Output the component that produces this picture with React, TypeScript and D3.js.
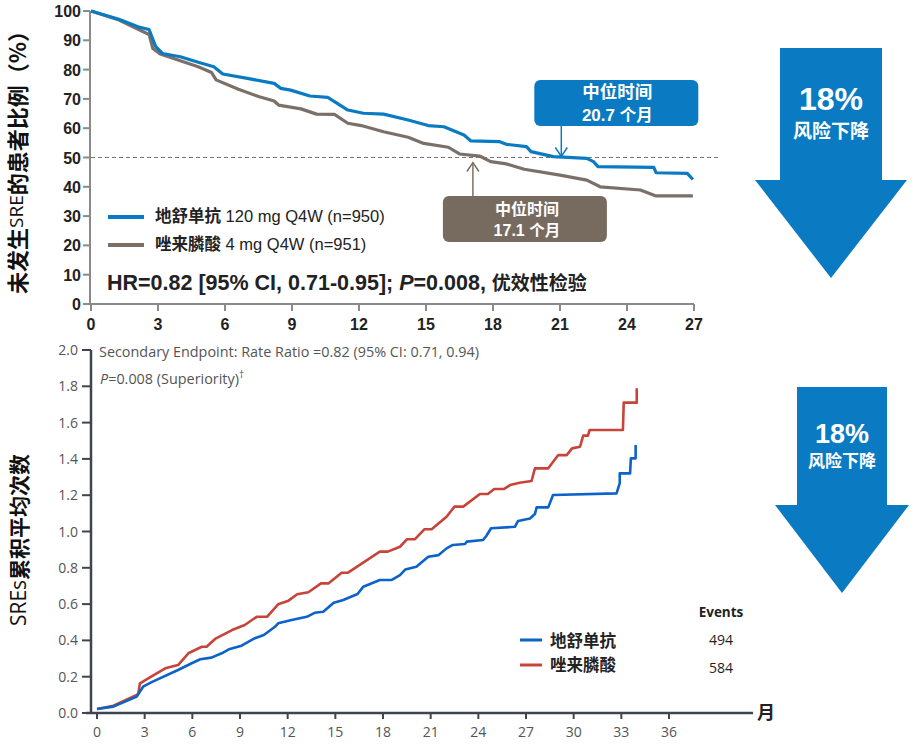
import React from "react";
import * as d3 from "d3";

// ---------- DATA ----------
const kmTicksX = [0, 3, 6, 9, 12, 15, 18, 21, 24, 27];
const kmTicksY = [0, 10, 20, 30, 40, 50, 60, 70, 80, 90, 100];
const denoKM: [number, number][] = [[0,100],[1.25,97.2],[2.1,94.6],[2.6,93.7],[2.9,87.8],[3.2,85.5],[4.0,84.4],[4.8,82.5],[5.5,81],[5.9,78.5],[7.0,77],[8.2,75.3],[8.5,73.6],[8.94,73.0],[9.8,71.0],[10.6,70.5],[11.5,66.2],[12.2,65.1],[13.1,64.8],[14.2,62.8],[15.1,60.9],[15.8,60.5],[16.7,57.7],[17.0,55.7],[18.3,55.4],[18.6,54.5],[19.5,53.7],[19.7,52.0],[20.7,50.3],[22.2,49.7],[22.5,48.6],[22.7,46.9],[25.2,46.6],[25.3,44.8],[26.7,44.6],[26.95,42.5]];
const zolKM: [number, number][] = [[0,100],[1.25,96.9],[2.6,92],[2.77,87.2],[3.1,85.3],[4.8,81],[5.4,79.0],[5.6,76.5],[6.6,73.3],[7.5,70.8],[8.2,69.3],[8.4,67.9],[9.4,66.6],[10.1,64.8],[10.9,64.7],[11.5,61.7],[12.1,60.9],[13.1,58.8],[14.2,56.9],[14.9,54.8],[16.0,53.5],[16.5,51.2],[17.4,50.5],[17.9,48.6],[18.6,47.8],[19.4,46],[21.0,44.0],[22.2,42.3],[22.8,40.0],[24.6,38.9],[25.3,36.9],[26.95,36.9]];

const mcfTicksX = [0, 3, 6, 9, 12, 15, 18, 21, 24, 27, 30, 33, 36];
const mcfTicksY = [0, 0.2, 0.4, 0.6, 0.8, 1.0, 1.2, 1.4, 1.6, 1.8, 2.0];
const denoMCF: [number, number][] = [[0,0.022],[1.03,0.035],[2.5,0.09],[2.9,0.145],[3.44,0.17],[5.1,0.237],[5.96,0.274],[6.5,0.296],[7.2,0.305],[7.85,0.329],[8.3,0.351],[9.1,0.371],[9.94,0.412],[10.5,0.43],[11.2,0.475],[11.4,0.494],[12.25,0.512],[13.2,0.53],[13.7,0.552],[14.24,0.558],[14.9,0.608],[15.5,0.623],[16.4,0.656],[16.76,0.696],[17.8,0.733],[18.55,0.733],[19.07,0.76],[19.4,0.79],[20.1,0.806],[20.85,0.861],[21.5,0.87],[22.0,0.907],[22.4,0.926],[23.16,0.931],[23.27,0.944],[24.3,0.953],[24.5,0.975],[24.8,1.018],[26.3,1.026],[26.5,1.058],[27.25,1.072],[27.56,1.096],[27.67,1.133],[28.4,1.133],[28.7,1.201],[32.7,1.21],[32.9,1.266],[32.9,1.32],[33.55,1.32],[33.6,1.403],[33.9,1.403],[33.9,1.477]];
const zolMCF: [number, number][] = [[0,0.022],[1.03,0.04],[2.5,0.099],[2.6,0.108],[2.7,0.163],[3.65,0.213],[4.3,0.246],[5.1,0.264],[5.75,0.329],[6.6,0.365],[6.9,0.365],[7.43,0.408],[8.5,0.457],[9.3,0.485],[10.05,0.53],[10.7,0.53],[11.4,0.599],[12.05,0.619],[12.6,0.654],[13.3,0.665],[14.1,0.714],[14.56,0.714],[15.4,0.773],[15.8,0.773],[17.8,0.889],[18.3,0.889],[19.07,0.916],[19.5,0.957],[20.0,0.957],[20.6,1.012],[21.06,1.012],[22.0,1.081],[22.5,1.137],[23.05,1.137],[24.1,1.207],[24.6,1.207],[25.0,1.234],[25.6,1.234],[26.0,1.256],[26.6,1.269],[27.35,1.278],[27.56,1.348],[28.4,1.348],[29.03,1.421],[29.56,1.421],[29.9,1.458],[30.4,1.467],[30.6,1.528],[30.9,1.528],[31.0,1.559],[33.1,1.559],[33.15,1.71],[33.97,1.71],[33.97,1.789]];

const medianDeno = 20.7;
const medianZol = 17.1;
const eventsDeno = 494;
const eventsZol = 584;

// ---------- STYLE ----------
const BLUE = "#0a7bc2";
const GREY = "#7a7068";
const BOXGREY = "#776b60";
const MBLUE = "#0b63c9";
const MRED = "#c6443a";
const LAT = "'Liberation Sans', Arial, 'Noto Sans CJK SC', sans-serif";
const CJK = "'Noto Sans CJK SC', 'Liberation Sans', sans-serif";
const OS = "'Open Sans', 'Noto Sans CJK SC', sans-serif";

export default function App() {
  // top KM chart
  const x1 = d3.scaleLinear().domain([0, 27]).range([91, 694]);
  const y1 = d3.scaleLinear().domain([0, 100]).range([304, 11]);
  const line1 = d3.line<[number, number]>().x(d => x1(d[0])).y(d => y1(d[1]));

  // bottom MCF chart
  const x2 = d3.scaleLinear().domain([0, 36]).range([97, 669]);
  const y2 = d3.scaleLinear().domain([0, 2]).range([713, 350]);
  const line2 = d3.line<[number, number]>().x(d => x2(d[0])).y(d => y2(d[1]));

  const bigArrow = (cx: number, top: number, shaftHalf: number, headY: number, headHalf: number, tipY: number) =>
    `M${cx - shaftHalf},${top}L${cx + shaftHalf},${top}L${cx + shaftHalf},${headY}L${cx + headHalf},${headY}L${cx},${tipY}L${cx - headHalf},${headY}L${cx - shaftHalf},${headY}Z`;

  const dArrowX = x1(medianDeno) + 8;
  const mBoxX = dArrowX - 27;
  const zArrowX = x1(medianZol);
  const zBoxCx = zArrowX + 54;

  return (
    <svg width={916} height={746} style={{ position: "absolute", left: 0, top: 0, background: "#fff" }}>
      {/* ===== TOP CHART ===== */}
      <text transform="translate(16,157) rotate(-90)" textAnchor="middle" dominantBaseline="central"
        fontFamily={CJK} fontWeight="bold" fontSize={22} fill="#111">
        未发生<tspan fontWeight="normal" fontFamily={OS} fontSize={19}>SRE</tspan>的患者比例（%）
      </text>
      {/* dashed median line */}
      <line x1={x1(0)} x2={720} y1={y1(50)} y2={y1(50)} stroke="#777" strokeWidth={1.2} strokeDasharray="4,3" />
      {/* axes */}
      <line x1={90} x2={90} y1={y1(100)} y2={y1(0)} stroke="#8a8a8a" strokeWidth={2} />
      <line x1={90} x2={x1(27)} y1={y1(0)} y2={y1(0)} stroke="#8a8a8a" strokeWidth={2} />
      {kmTicksY.map(v => (
        <g key={"ty" + v}>
          <line x1={83} x2={90} y1={y1(v)} y2={y1(v)} stroke="#8a8a8a" strokeWidth={2} />
          <text x={81} y={y1(v) + 6} textAnchor="end" fontFamily={LAT} fontWeight="bold" fontSize={16} fill="#222">{v}</text>
        </g>
      ))}
      {kmTicksX.map(t => (
        <g key={"tx" + t}>
          <line x1={x1(t)} x2={x1(t)} y1={y1(0)} y2={y1(0) + 7} stroke="#8a8a8a" strokeWidth={2} />
          <text x={x1(t)} y={330} textAnchor="middle" fontFamily={LAT} fontWeight="bold" fontSize={16} fill="#222">{t}</text>
        </g>
      ))}
      {/* curves */}
      <path d={line1(zolKM) || ""} fill="none" stroke={GREY} strokeWidth={3.2} strokeLinejoin="round" />
      <path d={line1(denoKM) || ""} fill="none" stroke={BLUE} strokeWidth={3.2} strokeLinejoin="round" />
      {/* legend */}
      <line x1={108} x2={144} y1={217} y2={217} stroke={BLUE} strokeWidth={4} />
      <text x={155} y={222} fontFamily={LAT} fontSize={16.5} fill="#222">
        <tspan fontFamily={CJK} fontWeight="bold" fontSize={16.5}>地舒单抗</tspan> 120 mg Q4W (n=950)
      </text>
      <line x1={108} x2={144} y1={245} y2={245} stroke={GREY} strokeWidth={4} />
      <text x={155} y={250} fontFamily={LAT} fontSize={16.5} fill="#222">
        <tspan fontFamily={CJK} fontWeight="bold" fontSize={16.5}>唑来膦酸</tspan> 4 mg Q4W (n=951)
      </text>
      <text x={107} y={290} fontFamily={LAT} fontWeight="bold" fontSize={21.5} fill="#222">
        HR=0.82 [95% CI, 0.71-0.95]; <tspan fontStyle="italic">P</tspan>=0.008, <tspan fontFamily={CJK} fontSize={19}>优效性检验</tspan>
      </text>
      {/* median callouts */}
      <rect x={mBoxX} y={80} width={164} height={46} rx={6} fill={BLUE} />
      <text x={mBoxX + 83} y={98} textAnchor="middle" fontFamily={CJK} fontWeight="bold" fontSize={17.5} fill="#fff">中位时间</text>
      <text x={mBoxX + 83} y={121} textAnchor="middle" fontFamily={LAT} fontWeight="bold" fontSize={17} fill="#fff">
        {medianDeno} <tspan fontFamily={CJK} fontSize={16.5}>个月</tspan>
      </text>
      <line x1={dArrowX} x2={dArrowX} y1={126} y2={y1(50) - 1} stroke={BLUE} strokeWidth={1.5} />
      <path d={`M${dArrowX - 6},${y1(50) - 10}L${dArrowX},${y1(50) - 1}L${dArrowX + 6},${y1(50) - 10}`} fill="none" stroke={BLUE} strokeWidth={1.5} />

      <rect x={zBoxCx - 84} y={196} width={164} height={46} rx={6} fill={BOXGREY} />
      <text x={zBoxCx} y={215} textAnchor="middle" fontFamily={CJK} fontWeight="bold" fontSize={16} fill="#fff">中位时间</text>
      <text x={zBoxCx} y={236} textAnchor="middle" fontFamily={LAT} fontWeight="bold" fontSize={16} fill="#fff">
        {medianZol} <tspan fontFamily={CJK} fontSize={15.5}>个月</tspan>
      </text>
      <line x1={zArrowX} x2={zArrowX} y1={196} y2={y1(50) + 5} stroke={GREY} strokeWidth={1.5} />
      <path d={`M${zArrowX - 6},${y1(50) + 14}L${zArrowX},${y1(50) + 5}L${zArrowX + 6},${y1(50) + 14}`} fill="none" stroke={GREY} strokeWidth={1.5} />

      {/* big arrow top */}
      <path d={bigArrow(831, 48, 51, 180, 76, 278)} fill="#0a7bc2" />
      <text x={831} y={110} textAnchor="middle" fontFamily={LAT} fontWeight="bold" fontSize={32} fill="#fff">18%</text>
      <text x={831} y={138} textAnchor="middle" fontFamily={CJK} fontWeight="bold" fontSize={19} fill="#fff">风险下降</text>

      {/* ===== BOTTOM CHART ===== */}
      <text transform="translate(18,540) rotate(-90)" textAnchor="middle" dominantBaseline="central"
        fontFamily={CJK} fontWeight="bold" fontSize={21} fill="#111">
        <tspan fontWeight="normal" fontFamily={OS}>SREs</tspan>累积平均次数
      </text>
      <line x1={91} x2={91} y1={y2(2)} y2={y2(0)} stroke="#3e4550" strokeWidth={2.5} />
      <line x1={86} x2={753} y1={y2(0)} y2={y2(0)} stroke="#3e4550" strokeWidth={2.5} />
      {mcfTicksY.map(v => (
        <g key={"my" + v}>
          <line x1={82} x2={91} y1={y2(v)} y2={y2(v)} stroke="#3e4550" strokeWidth={2} />
          <text x={78} y={y2(v) + 5} textAnchor="end" fontFamily={OS} fontSize={14} fill="#555">{v.toFixed(1)}</text>
        </g>
      ))}
      {mcfTicksX.map(t => (
        <g key={"mx" + t}>
          <line x1={x2(t)} x2={x2(t)} y1={y2(0)} y2={y2(0) + 6} stroke="#3e4550" strokeWidth={2} />
          <text x={x2(t)} y={737} textAnchor="middle" fontFamily={OS} fontSize={14} fill="#555">{t}</text>
        </g>
      ))}
      <text x={757} y={719} fontFamily={CJK} fontWeight="bold" fontSize={18} fill="#222">月</text>
      <text x={99} y={357} fontFamily={OS} fontSize={14.4} fill="#555">
        Secondary Endpoint: Rate Ratio =0.82 (95% CI: 0.71, 0.94)
      </text>
      <text x={100} y={384} fontFamily={OS} fontSize={14.4} fill="#555">
        <tspan fontStyle="italic">P</tspan>=0.008 (Superiority)<tspan fontSize={10} dy={-6}>†</tspan>
      </text>
      <path d={line2(zolMCF) || ""} fill="none" stroke={MRED} strokeWidth={2.6} strokeLinejoin="round" />
      <path d={line2(denoMCF) || ""} fill="none" stroke={MBLUE} strokeWidth={2.6} strokeLinejoin="round" />
      {/* legend */}
      <text x={721} y={617} textAnchor="middle" fontFamily={OS} fontWeight="bold" fontSize={13.5} fill="#222">Events</text>
      <line x1={520} x2={542} y1={640} y2={640} stroke={MBLUE} strokeWidth={3} />
      <text x={550} y={647} fontFamily={CJK} fontWeight="bold" fontSize={16.5} fill="#222">地舒单抗</text>
      <text x={721} y={645} textAnchor="middle" fontFamily={OS} fontSize={14} fill="#222">{eventsDeno}</text>
      <line x1={520} x2={542} y1={665} y2={665} stroke={MRED} strokeWidth={3} />
      <text x={550} y={671} fontFamily={CJK} fontWeight="bold" fontSize={16.5} fill="#222">唑来膦酸</text>
      <text x={721} y={673} textAnchor="middle" fontFamily={OS} fontSize={14} fill="#222">{eventsZol}</text>

      {/* big arrow bottom */}
      <path d={bigArrow(842, 387, 45, 505, 67, 593)} fill="#0a7bc2" />
      <text x={842} y={443} textAnchor="middle" fontFamily={LAT} fontWeight="bold" fontSize={27} fill="#fff">18%</text>
      <text x={842} y={467} textAnchor="middle" fontFamily={CJK} fontWeight="bold" fontSize={17} fill="#fff">风险下降</text>
    </svg>
  );
}
